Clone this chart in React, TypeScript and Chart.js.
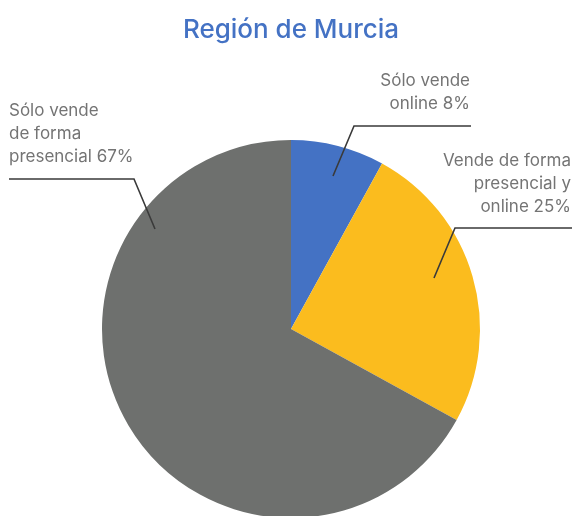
import React, { useEffect, useRef } from "react";
import { Chart, registerables } from "chart.js";

Chart.register(...registerables);

const title = "Región de Murcia";
const categories = ["Sólo vende online", "Vende de forma presencial y online", "Sólo vende de forma presencial"];
const values = [8, 25, 67];
const colors = ["#4472C4", "#FBBC1E", "#6E706E"];
const labelLines = [
  ["Sólo vende", "online 8%"],
  ["Vende de forma", "presencial y", "online 25%"],
  ["Sólo vende", "de forma", "presencial 67%"],
];

// annotation geometry relative to pie centre (px)
const anchors = [
  { ax: 42, ay: -153, ex: 63, ey: -203, lx: 180, align: "right", tx: 179, ty: -248 },
  { ax: 143, ay: -51, ex: 164, ey: -101, lx: 281, align: "right", tx: 280, ty: -168 },
  { ax: -136, ay: -100, ex: -157, ey: -150, lx: -282, align: "left", tx: -282, ty: -218 },
];

const FONT = "Inter, 'Noto Sans', sans-serif";

const annotPlugin = {
  id: "annot",
  afterDraw(chart: any) {
    const ctx = chart.ctx;
    const meta = chart.getDatasetMeta(0);
    const arc = meta.data[0];
    const cx = arc.x;
    const cy = arc.y;
    ctx.save();
    // title
    ctx.fillStyle = "#4472C4";
    ctx.font = `500 26px ${FONT}`;
    ctx.textAlign = "center";
    ctx.textBaseline = "middle";
    ctx.fillText(title, cx, 30);
    // leader lines + labels
    anchors.forEach((a, i) => {
      ctx.strokeStyle = "#3a3a3a";
      ctx.lineWidth = 1.6;
      ctx.beginPath();
      ctx.moveTo(cx + a.ax, cy + a.ay);
      ctx.lineTo(cx + a.ex, cy + a.ey);
      ctx.lineTo(cx + a.lx, cy + a.ey);
      ctx.stroke();
      ctx.fillStyle = "#747474";
      ctx.font = `400 17px ${FONT}`;
      ctx.textAlign = a.align;
      ctx.textBaseline = "middle";
      labelLines[i].forEach((t, j) => {
        ctx.fillText(t, cx + a.tx, cy + a.ty + j * 23);
      });
    });
    ctx.restore();
  },
};

export default function App() {
  const ref = useRef<HTMLCanvasElement>(null);
  useEffect(() => {
    const chart = new Chart(ref.current!, {
      type: "pie",
      data: {
        labels: categories,
        datasets: [
          {
            data: values,
            backgroundColor: colors,
            borderWidth: 0,
          },
        ],
      },
      options: {
        responsive: false,
        animation: false,
        layout: { padding: { top: 140, bottom: 12, left: 102, right: 95 } },
        plugins: {
          legend: { display: false },
          tooltip: { enabled: false },
          title: { display: false },
        },
      },
      plugins: [annotPlugin],
    });
    return () => chart.destroy();
  }, []);
  return (
    <div style={{ position: "fixed", left: 0, top: 0, width: 575, height: 516, overflow: "hidden", background: "#fff" }}>
      <canvas ref={ref} width={575} height={530} style={{ display: "block" }} />
    </div>
  );
}
